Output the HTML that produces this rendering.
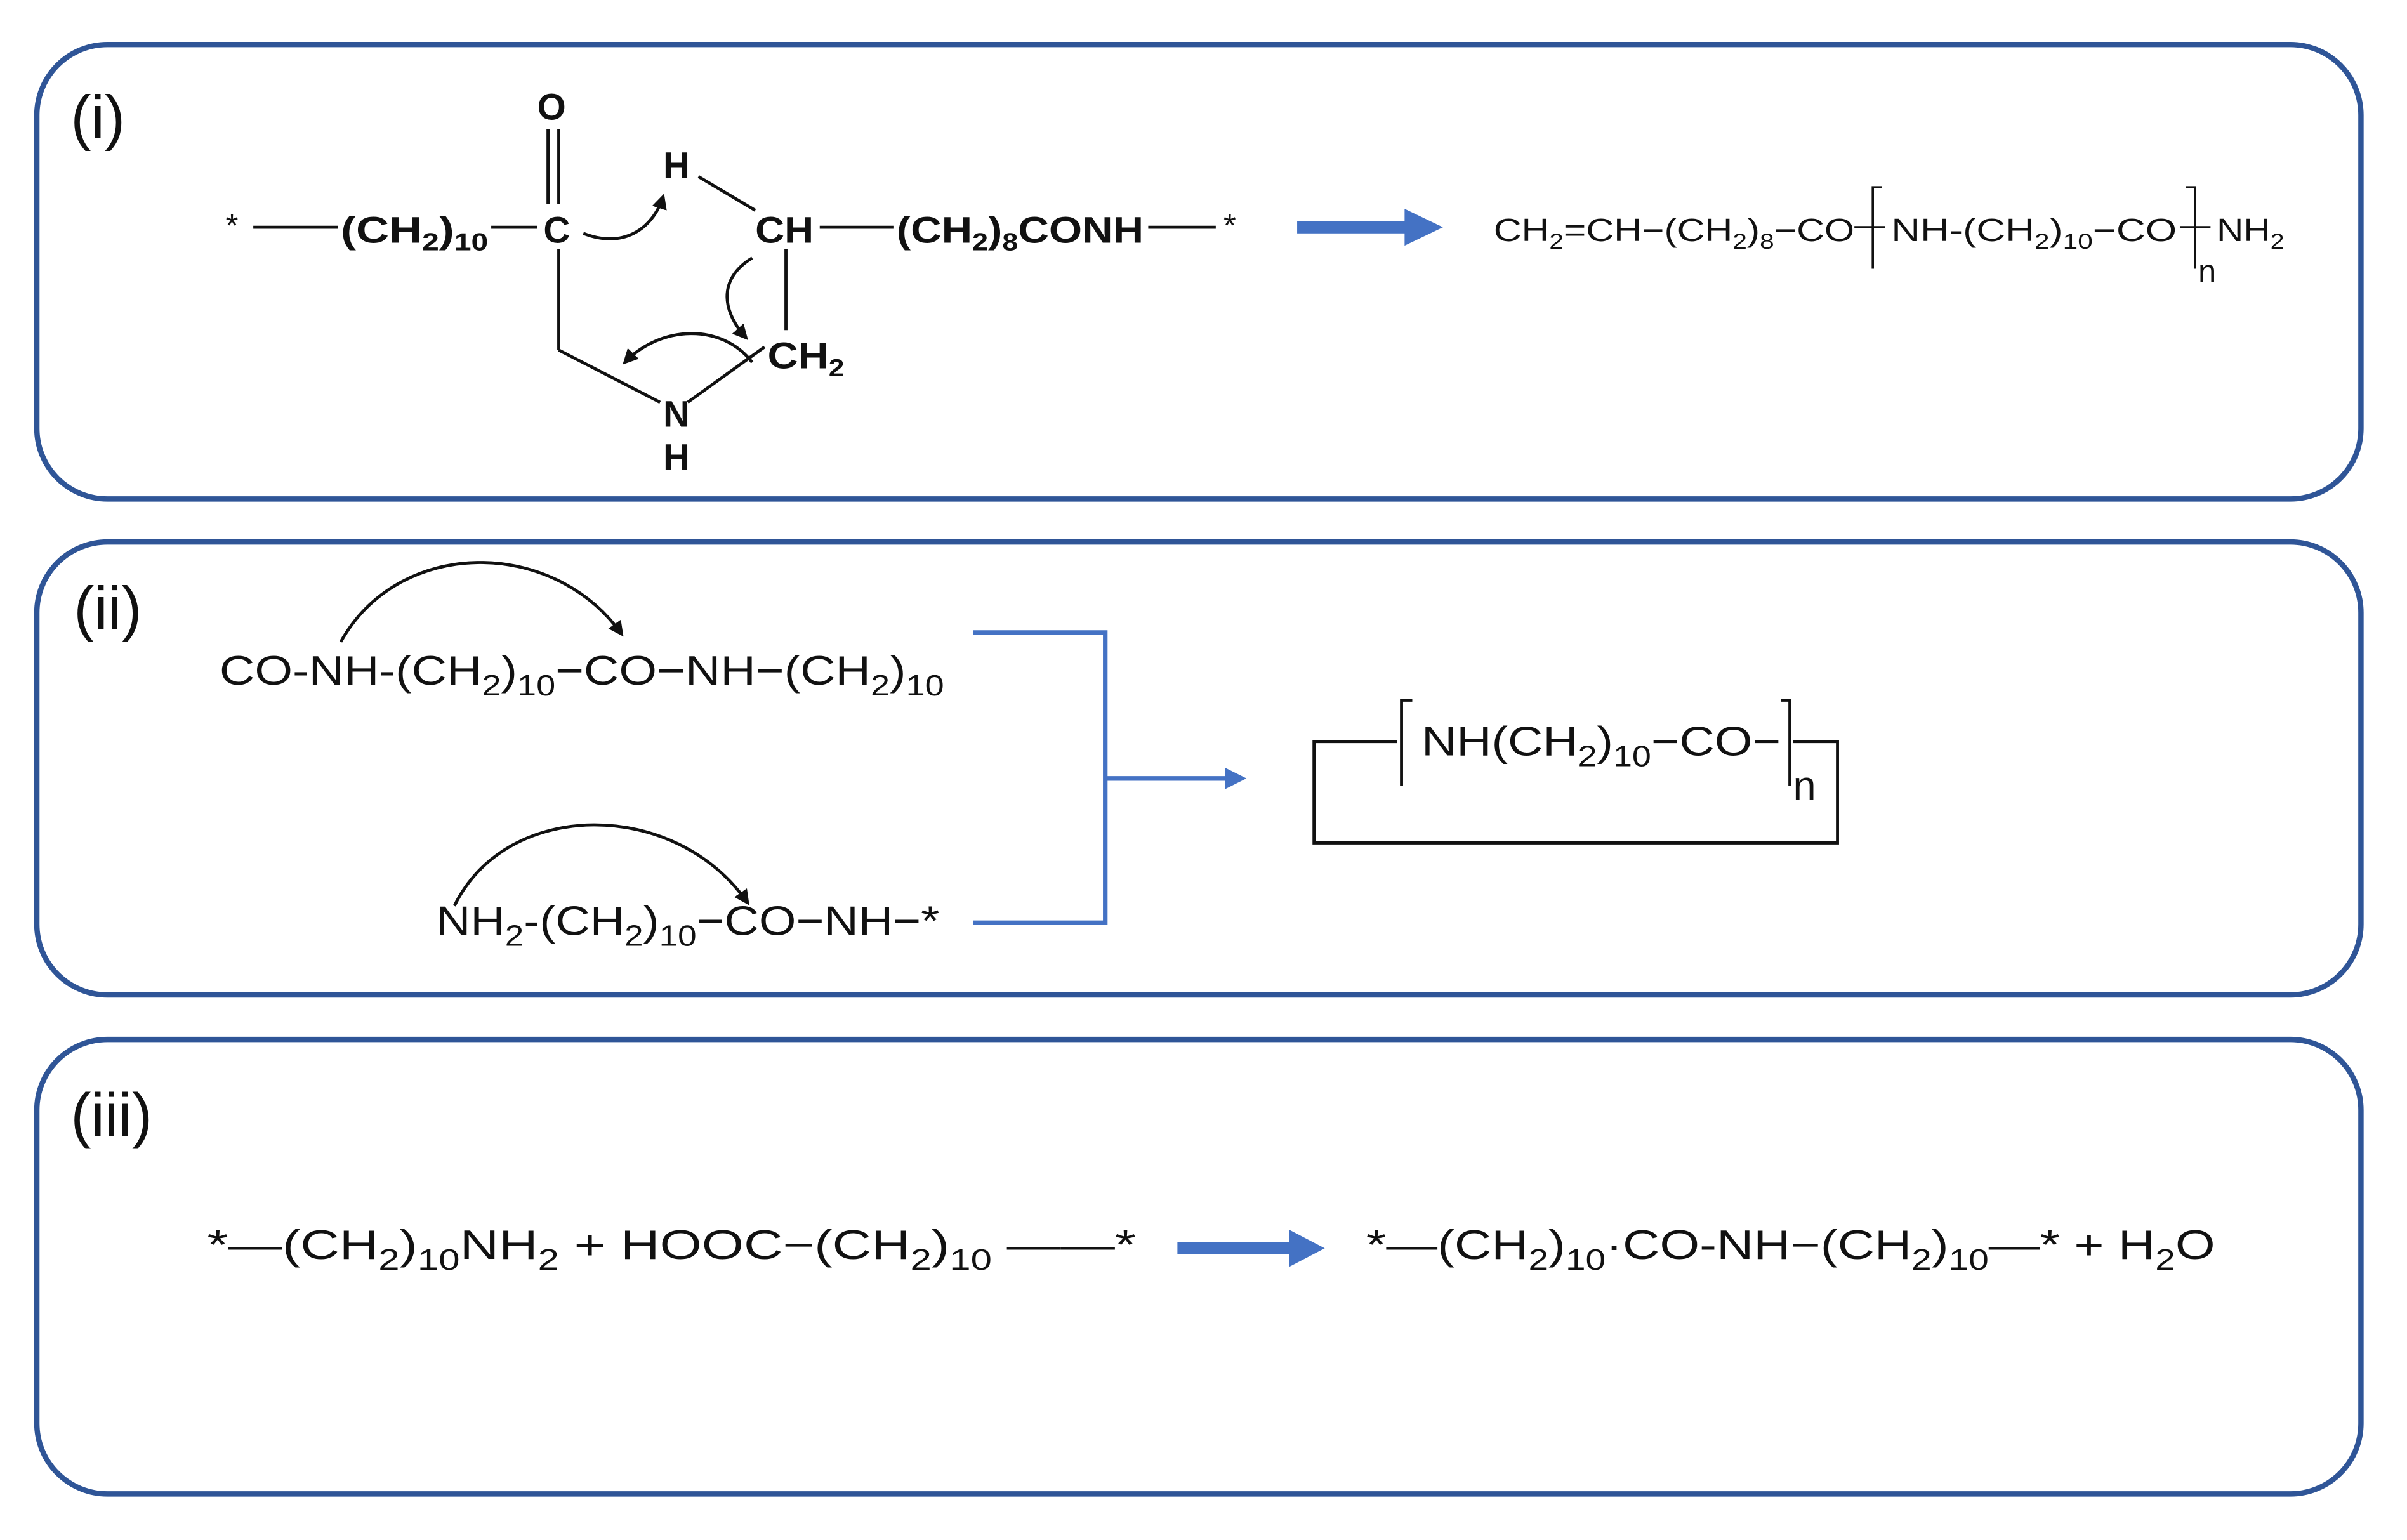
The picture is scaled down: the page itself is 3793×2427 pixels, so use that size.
<!DOCTYPE html>
<html><head><meta charset="utf-8"><style>
html,body{margin:0;padding:0;background:#fff;}
svg{display:block;}
text{font-family:"Liberation Sans",Arial,sans-serif;fill:#111;}
.b{font-weight:bold;font-size:24px;}
.m{font-size:21px;}
.l{font-size:27px;}
.lab{font-size:40px;}
</style></head><body>
<svg width="3793" height="2427" viewBox="0 0 1568 1003" preserveAspectRatio="none" xmlns="http://www.w3.org/2000/svg">
<defs>
<marker id="ah" markerWidth="10" markerHeight="10" refX="8" refY="5" orient="auto" markerUnits="userSpaceOnUse"><path d="M0,0 L10,5 L0,10 Z" fill="#111"/></marker>
</defs>
<g fill="none" stroke="#2f5597" stroke-width="3.5">
<rect x="24" y="29" width="1514" height="296" rx="46"/>
<rect x="24" y="353" width="1514" height="295" rx="46"/>
<rect x="24" y="677" width="1514" height="296" rx="46"/>
</g>
<text class="lab" x="46" y="90">(i)</text>
<text class="lab" x="48" y="410">(ii)</text>
<text class="lab" x="46" y="740">(iii)</text>

<!-- (i) -->
<g stroke="#111" stroke-width="2" fill="none">
<line x1="165" y1="148" x2="220" y2="148"/>
<line x1="320" y1="148" x2="350" y2="148"/>
<line x1="357" y1="84" x2="357" y2="133"/>
<line x1="364" y1="84" x2="364" y2="133"/>
<line x1="364" y1="162" x2="364" y2="228"/>
<line x1="364" y1="228" x2="430" y2="262"/>
<line x1="448" y1="262" x2="498" y2="226"/>
<line x1="512" y1="162" x2="512" y2="215"/>
<line x1="455" y1="115" x2="492" y2="137"/>
<line x1="534" y1="148" x2="582" y2="148"/>
<line x1="748" y1="148" x2="792" y2="148"/>
<path d="M380,152 C405,162 425,150 432,128" marker-end="url(#ah)"/>
<path d="M490,168 C470,180 468,200 486,220" marker-end="url(#ah)"/>
<path d="M490,236 C470,210 430,212 407,236" marker-end="url(#ah)"/>
</g>
<text class="m" x="147" y="154">*</text>
<text class="b" x="222" y="158" textLength="96" lengthAdjust="spacingAndGlyphs">(CH<tspan font-size="16" dy="5">2</tspan><tspan dy="-5">)</tspan><tspan font-size="16" dy="5">10</tspan></text>
<text class="b" x="354" y="158">C</text>
<text class="b" x="350" y="78">O</text>
<text class="b" x="432" y="116">H</text>
<text class="b" x="492" y="158" textLength="38" lengthAdjust="spacingAndGlyphs">CH</text>
<text class="b" x="584" y="158" textLength="161" lengthAdjust="spacingAndGlyphs">(CH<tspan font-size="16" dy="5">2</tspan><tspan dy="-5">)</tspan><tspan font-size="16" dy="5">8</tspan><tspan dy="-5">CONH</tspan></text>
<text class="m" x="797" y="154">*</text>
<text class="b" x="500" y="240" textLength="50" lengthAdjust="spacingAndGlyphs">CH<tspan font-size="16" dy="5">2</tspan></text>
<text class="b" x="432" y="278">N</text>
<text class="b" x="432" y="306">H</text>
<rect x="845" y="144" width="72" height="8" fill="#4472c4"/>
<path d="M915,136 L940,148 L915,160 Z" fill="#4472c4"/>
<text class="m" x="973" y="157" textLength="235" lengthAdjust="spacingAndGlyphs">CH<tspan font-size="14" dy="5">2</tspan><tspan dy="-5">=CH−(CH</tspan><tspan font-size="14" dy="5">2</tspan><tspan dy="-5">)</tspan><tspan font-size="14" dy="5">8</tspan><tspan dy="-5">−CO</tspan></text>
<g stroke="#111" stroke-width="1.5" fill="none">
<line x1="1208" y1="148" x2="1228" y2="148"/>
<path d="M1226,122 L1220,122 L1220,175"/>
<line x1="1420" y1="148" x2="1440" y2="148"/>
<path d="M1424,122 L1430,122 L1430,175"/>
</g>
<text class="m" x="1232" y="157" textLength="186" lengthAdjust="spacingAndGlyphs">NH-(CH<tspan font-size="14" dy="5">2</tspan><tspan dy="-5">)</tspan><tspan font-size="14" dy="5">10</tspan><tspan dy="-5">−CO</tspan></text>
<text class="m" x="1432" y="184">n</text>
<text class="m" x="1444" y="157" textLength="44" lengthAdjust="spacingAndGlyphs">NH<tspan font-size="14" dy="5">2</tspan></text>

<!-- (ii) -->
<g stroke="#111" stroke-width="2" fill="none">
<path d="M222,418 C260,350 360,350 405,413" marker-end="url(#ah)"/>
<path d="M296,590 C330,520 440,520 487,588" marker-end="url(#ah)"/>
</g>
<text class="l" x="143" y="446" textLength="472" lengthAdjust="spacingAndGlyphs">CO-NH-(CH<tspan font-size="19" dy="7">2</tspan><tspan dy="-7">)</tspan><tspan font-size="19" dy="7">10</tspan><tspan dy="-7">−CO−NH−(CH</tspan><tspan font-size="19" dy="7">2</tspan><tspan dy="-7">)</tspan><tspan font-size="19" dy="7">10</tspan></text>
<text class="l" x="284" y="609" textLength="328" lengthAdjust="spacingAndGlyphs">NH<tspan font-size="19" dy="7">2</tspan><tspan dy="-7">-(CH</tspan><tspan font-size="19" dy="7">2</tspan><tspan dy="-7">)</tspan><tspan font-size="19" dy="7">10</tspan><tspan dy="-7">−CO−NH−*</tspan></text>
<g stroke="#4472c4" stroke-width="3" fill="none">
<path d="M634,412 L720,412 L720,601 L634,601"/>
<line x1="720" y1="507" x2="800" y2="507"/>
</g>
<path d="M798,500 L812,507 L798,514 Z" fill="#4472c4"/>
<g stroke="#111" stroke-width="2" fill="none">
<path d="M910,483 L856,483 L856,549 L1197,549 L1197,483 L1168,483"/>
<path d="M920,456 L913,456 L913,512"/>
<path d="M1160,456 L1166,456 L1166,512"/>
</g>
<text class="l" x="926" y="492" textLength="234" lengthAdjust="spacingAndGlyphs">NH(CH<tspan font-size="19" dy="7">2</tspan><tspan dy="-7">)</tspan><tspan font-size="19" dy="7">10</tspan><tspan dy="-7">−CO−</tspan></text>
<text class="l" x="1168" y="521">n</text>

<!-- (iii) -->
<text class="l" x="135" y="820" textLength="605" lengthAdjust="spacingAndGlyphs">*—(CH<tspan font-size="19" dy="7">2</tspan><tspan dy="-7">)</tspan><tspan font-size="19" dy="7">10</tspan><tspan dy="-7">NH</tspan><tspan font-size="19" dy="7">2</tspan><tspan dy="-7">  +  HOOC−(CH</tspan><tspan font-size="19" dy="7">2</tspan><tspan dy="-7">)</tspan><tspan font-size="19" dy="7">10</tspan><tspan dy="-7"> ——*</tspan></text>
<rect x="767" y="809" width="75" height="8" fill="#4472c4"/>
<path d="M840,801 L863,813 L840,825 Z" fill="#4472c4"/>
<text class="l" x="890" y="820" textLength="553" lengthAdjust="spacingAndGlyphs">*—(CH<tspan font-size="19" dy="7">2</tspan><tspan dy="-7">)</tspan><tspan font-size="19" dy="7">10</tspan><tspan dy="-7">·CO-NH−(CH</tspan><tspan font-size="19" dy="7">2</tspan><tspan dy="-7">)</tspan><tspan font-size="19" dy="7">10</tspan><tspan dy="-7">—*  +   H</tspan><tspan font-size="19" dy="7">2</tspan><tspan dy="-7">O</tspan></text>
</svg>
</body></html>
